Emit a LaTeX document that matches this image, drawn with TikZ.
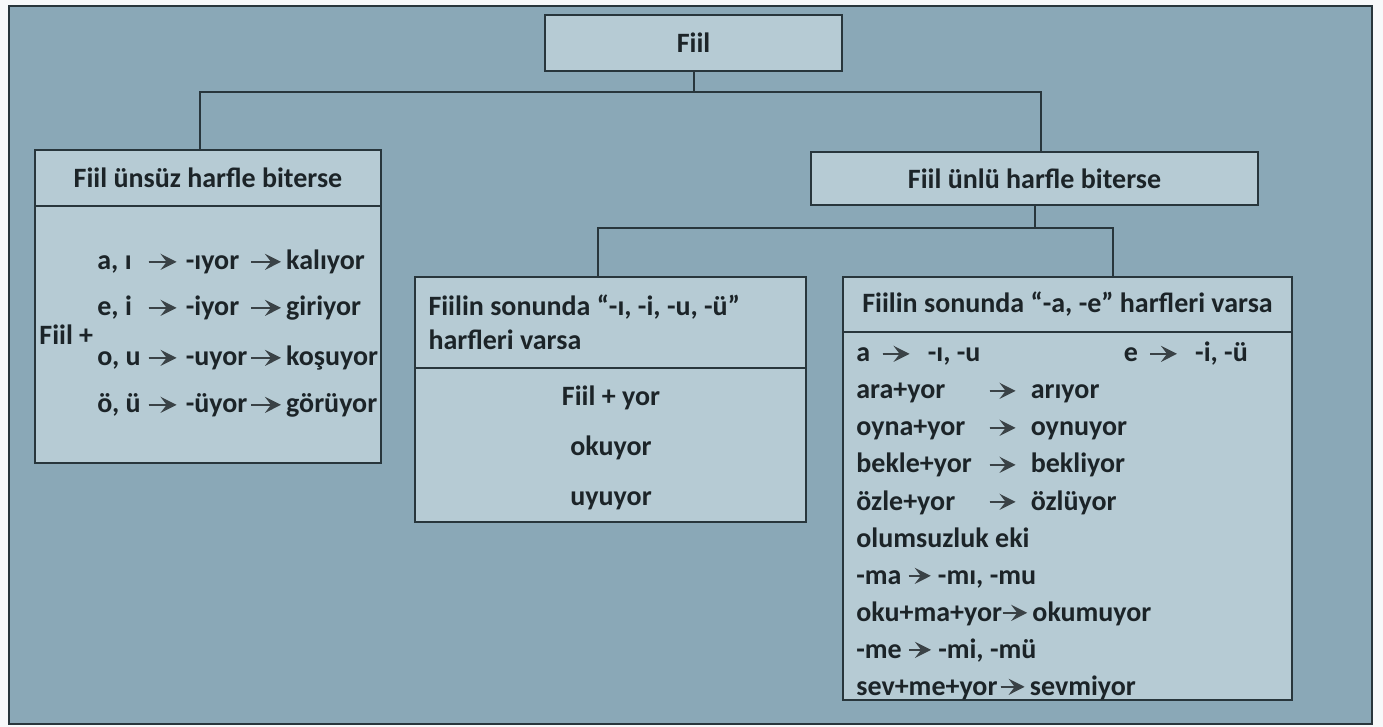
\documentclass[tikz,border=0pt]{standalone}
\usepackage{fontspec}
\setmainfont{Carlito}
\usetikzlibrary{positioning,arrows.meta}
\definecolor{zemin}{RGB}{138,168,183}
\definecolor{kuturengi}{RGB}{182,203,212}
\definecolor{cizgi}{RGB}{40,54,60}
\definecolor{yazirengi}{RGB}{28,36,40}
\definecolor{okrengi}{RGB}{58,66,70}
\tikzstyle{kutu}=[rectangle, draw=cizgi, line width=1pt, fill=kuturengi, inner sep=0pt, outer sep=0pt, text=yazirengi, font=\fontsize{14}{17}\selectfont\bfseries]
\tikzstyle{satir}=[inner sep=0pt, anchor=base west, text=yazirengi, font=\fontsize{14}{17}\selectfont\bfseries]
\tikzstyle{dal}=[draw=cizgi, line width=1pt]
\tikzstyle{oktipi}=[draw=okrengi, fill=okrengi, line width=1.2pt, -{Stealth[length=8pt,width=8pt,inset=3pt]}]
\newcommand{\ok}[1][13pt]{\tikz[x=1pt,y=1pt,baseline=-0.6ex]\draw[oktipi] (0,0) -- (#1,0);}

\begin{document}
\begin{tikzpicture}[x=0.5pt,y=-0.5pt]
\useasboundingbox[fill=white!93!zemin] (0,0) rectangle (1383,727);
\draw[fill=zemin, draw=cizgi, line width=1pt] (9,6) rectangle (1372,724);

\node[kutu, minimum width=148.5pt, minimum height=28pt](Fiil) at (693.5,43){Fiil};
\node[kutu, minimum width=173pt, minimum height=28pt](unsuz) at (208,178){Fiil ünsüz harfle biterse};
\node[kutu, minimum width=173pt, minimum height=128.5pt, below=0pt of unsuz](unsuzKural){};
\node[kutu, minimum width=223.5pt, minimum height=26.5pt](unlu) at (1034.5,178.5){Fiil ünlü harfle biterse};
\node[kutu, minimum width=195.5pt, minimum height=45.5pt, align=flush left, text width=182pt](darUnlu) at (610.5,322.5){Fiilin sonunda “-ı, -i, -u, -ü”\\harfleri varsa};
\node[kutu, minimum width=195.5pt, minimum height=77pt, below=0pt of darUnlu](darUnluKural){};
\node[kutu, minimum width=224.5pt, minimum height=27.5pt](genisUnlu) at (1067.5,304.5){Fiilin sonunda “-a, -e” harfleri varsa};
\node[kutu, minimum width=224.5pt, minimum height=184pt, below=0pt of genisUnlu](genisUnluKural){};

\coordinate (dal1) at (693.5,92);
\coordinate (dal2) at (1034.5,228);
\draw[dal] (Fiil.south) -- (dal1);
\draw[dal] (dal1) -| ([xshift=-4pt]unsuz.north);
\draw[dal] (dal1) -| ([xshift=3pt]unlu.north);
\draw[dal] (unlu.south) -- (dal2);
\draw[dal] (dal2) -| ([xshift=-6.5pt]darUnlu.north);
\draw[dal] (dal2) -| ([xshift=22.5pt]genisUnlu.north);

% unsuz harf kurallari
\node[satir](fiilArti) at (39,345){Fiil +};
\node[satir](kalma) at (97,270){\makebox[25pt][l]{a, ı}\ok[14pt]\hspace{4pt}\makebox[32pt][l]{-ıyor}\ok[15pt]\hspace{2pt}kalıyor};
\node[satir](girme) at (97,316){\makebox[25pt][l]{e, i}\ok[14pt]\hspace{4pt}\makebox[32pt][l]{-iyor}\ok[15pt]\hspace{2pt}giriyor};
\node[satir](kosma) at (97,366){\makebox[25pt][l]{o, u}\ok[14pt]\hspace{4pt}\makebox[32pt][l]{-uyor}\ok[15pt]\hspace{2pt}koşuyor};
\node[satir](gorme) at (97,413){\makebox[25pt][l]{ö, ü}\ok[14pt]\hspace{4pt}\makebox[32pt][l]{-üyor}\ok[15pt]\hspace{2pt}görüyor};

% dar unlu
\node[satir, anchor=base](fiilYor) at (611,406){Fiil + yor};
\node[satir, anchor=base](okuyor) at (611,456){okuyor};
\node[satir, anchor=base](uyuyor) at (611,505){uyuyor};

% genis unlu
\node[satir](daralma) at (856,362){\makebox[12.5pt][l]{a}\ok[13.5pt]\hspace{8.5pt}\makebox[98pt][l]{-ı, -u}\makebox[12.5pt][l]{e}\ok[13.5pt]\hspace{8.5pt}-i, -ü};
\node[satir](arama) at (856,399){\makebox[66pt][l]{ara+yor}\ok[13pt]\hspace{7pt}arıyor};
\node[satir](oynama) at (856,436){\makebox[66pt][l]{oyna+yor}\ok[13pt]\hspace{7pt}oynuyor};
\node[satir](bekleme) at (856,473){\makebox[66pt][l]{bekle+yor}\ok[13pt]\hspace{7pt}bekliyor};
\node[satir](ozleme) at (856,510){\makebox[66pt][l]{özle+yor}\ok[13pt]\hspace{7pt}özlüyor};
\node[satir](olumsuz) at (856,547){olumsuzluk eki};
\node[satir](maEki) at (856,584){-ma\hspace{3pt}\ok[11pt]\hspace{3pt}-mı, -mu};
\node[satir](okumama) at (856,621){oku+ma+yor\ok[12pt]\hspace{2pt}okumuyor};
\node[satir](meEki) at (856,658){-me\hspace{3pt}\ok[11pt]\hspace{3pt}-mi, -mü};
\node[satir](sevmeme) at (856,695){sev+me+yor\hspace{1pt}\ok[12pt]\hspace{2pt}sevmiyor};

\end{tikzpicture}
\end{document}
